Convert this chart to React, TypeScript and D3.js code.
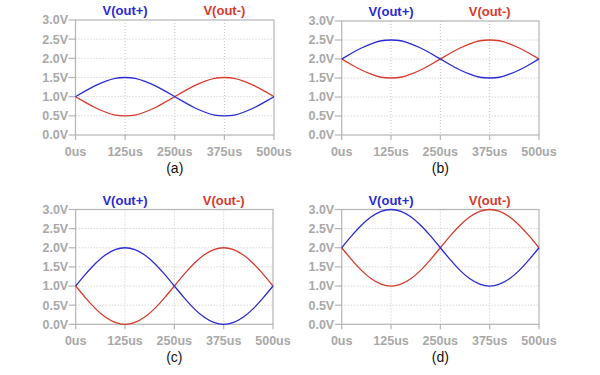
import React from "react";
import * as d3 from "d3";

// sample times (us) and readings
const timeUs = [0, 25, 50, 75, 100, 125, 150, 175, 200, 225, 250, 275, 300, 325, 350, 375, 400, 425, 450, 475, 500];

const outPlusA = [1, 1.15, 1.29, 1.4, 1.48, 1.5, 1.48, 1.4, 1.29, 1.15, 1, 0.85, 0.71, 0.6, 0.52, 0.5, 0.52, 0.6, 0.71, 0.85, 1];
const outMinusA = [1, 0.85, 0.71, 0.6, 0.52, 0.5, 0.52, 0.6, 0.71, 0.85, 1, 1.15, 1.29, 1.4, 1.48, 1.5, 1.48, 1.4, 1.29, 1.15, 1];
const outPlusB = [2, 2.15, 2.29, 2.4, 2.48, 2.5, 2.48, 2.4, 2.29, 2.15, 2, 1.85, 1.71, 1.6, 1.52, 1.5, 1.52, 1.6, 1.71, 1.85, 2];
const outMinusB = [2, 1.85, 1.71, 1.6, 1.52, 1.5, 1.52, 1.6, 1.71, 1.85, 2, 2.15, 2.29, 2.4, 2.48, 2.5, 2.48, 2.4, 2.29, 2.15, 2];
const outPlusC = [1, 1.31, 1.59, 1.81, 1.95, 2, 1.95, 1.81, 1.59, 1.31, 1, 0.69, 0.41, 0.19, 0.05, 0, 0.05, 0.19, 0.41, 0.69, 1];
const outMinusC = [1, 0.69, 0.41, 0.19, 0.05, 0, 0.05, 0.19, 0.41, 0.69, 1, 1.31, 1.59, 1.81, 1.95, 2, 1.95, 1.81, 1.59, 1.31, 1];
const outPlusD = [2, 2.31, 2.59, 2.81, 2.95, 3, 2.95, 2.81, 2.59, 2.31, 2, 1.69, 1.41, 1.19, 1.05, 1, 1.05, 1.19, 1.41, 1.69, 2];
const outMinusD = [2, 1.69, 1.41, 1.19, 1.05, 1, 1.05, 1.19, 1.41, 1.69, 2, 2.31, 2.59, 2.81, 2.95, 3, 2.95, 2.81, 2.59, 2.31, 2];

const xTicks = [0, 125, 250, 375, 500];
const yTicks = [0, 0.5, 1, 1.5, 2, 2.5, 3];
const seriesNames = ["V(out+)", "V(out-)"];
const panelLabels = ["(a)", "(b)", "(c)", "(d)"];

const BLUE = "#2a2ad4";
const RED = "#d83a2c";
const GRAY = "#a8a8a8";
const FONT = "Liberation Sans, Arial, sans-serif";

type PanelProps = {
  left: number; right: number; top: number; bottom: number;
  plus: number[]; minus: number[]; label: string;
};

const Panel = ({ left, right, top, bottom, plus, minus, label }: PanelProps) => {
  const x = d3.scaleLinear().domain([0, 500]).range([left, right]);
  const y = d3.scaleLinear().domain([0, 3]).range([bottom, top]);
  const line = d3.line<number>()
    .x((d, i) => x(timeUs[i]))
    .y((d) => y(d))
    .curve(d3.curveNatural);

  return (
    <g>
      {/* grid */}
      {yTicks.slice(1, -1).map((v) => (
        <line key={"gy" + v} x1={left} x2={right} y1={y(v)} y2={y(v)}
          stroke="#c4c4c4" strokeWidth={1} strokeDasharray="1,2" />
      ))}
      {xTicks.slice(1, -1).map((v) => (
        <line key={"gx" + v} x1={x(v)} x2={x(v)} y1={top} y2={bottom}
          stroke="#c4c4c4" strokeWidth={1} strokeDasharray="1,2" />
      ))}
      <rect x={left} y={top} width={right - left} height={bottom - top}
        fill="none" stroke="#b4b4b4" strokeWidth={1.2} />
      {/* y ticks */}
      {yTicks.map((v) => (
        <g key={"ty" + v}>
          <line x1={left - 7} x2={left} y1={y(v)} y2={y(v)} stroke="#b4b4b4" strokeWidth={1.2} />
          <text x={left - 7.5} y={y(v)} dy="0.35em" textAnchor="end"
            fontFamily={FONT} fontSize={12.5} fontWeight="bold" fill={GRAY}>
            {v.toFixed(1) + "V"}
          </text>
        </g>
      ))}
      {/* x ticks */}
      {xTicks.map((v) => (
        <g key={"tx" + v}>
          <line x1={x(v)} x2={x(v)} y1={bottom} y2={bottom + 5} stroke="#b4b4b4" strokeWidth={1.2} />
          <text x={x(v)} y={bottom + 21} textAnchor="middle"
            fontFamily={FONT} fontSize={12.5} fontWeight="bold" fill={GRAY}>
            {v + "us"}
          </text>
        </g>
      ))}
      <path d={line(minus) || ""} fill="none" stroke={RED} strokeWidth={1.3} />
      <path d={line(plus) || ""} fill="none" stroke={BLUE} strokeWidth={1.3} />
      <text x={x(125)} y={top - 5} textAnchor="middle" fontFamily={FONT}
        fontSize={13} fontWeight="bold" fill={BLUE}>{seriesNames[0]}</text>
      <text x={x(375)} y={top - 5} textAnchor="middle" fontFamily={FONT}
        fontSize={13} fontWeight="bold" fill={RED}>{seriesNames[1]}</text>
      <text x={x(250)} y={bottom + 37.5} textAnchor="middle" fontFamily={FONT}
        fontSize={14} fill="#111">{label}</text>
    </g>
  );
};

export default function App() {
  return (
    <svg width={600} height={375} style={{ position: "absolute", left: 0, top: 0, background: "#fff" }}>
      <rect width={600} height={375} fill="#fff" />
      <Panel left={75.5} right={274} top={20} bottom={135} plus={outPlusA} minus={outMinusA} label={panelLabels[0]} />
      <Panel left={341.7} right={539} top={21} bottom={135} plus={outPlusB} minus={outMinusB} label={panelLabels[1]} />
      <Panel left={75.7} right={273} top={209.5} bottom={324.3} plus={outPlusC} minus={outMinusC} label={panelLabels[2]} />
      <Panel left={341.7} right={539} top={209.5} bottom={324.3} plus={outPlusD} minus={outMinusD} label={panelLabels[3]} />
    </svg>
  );
}
